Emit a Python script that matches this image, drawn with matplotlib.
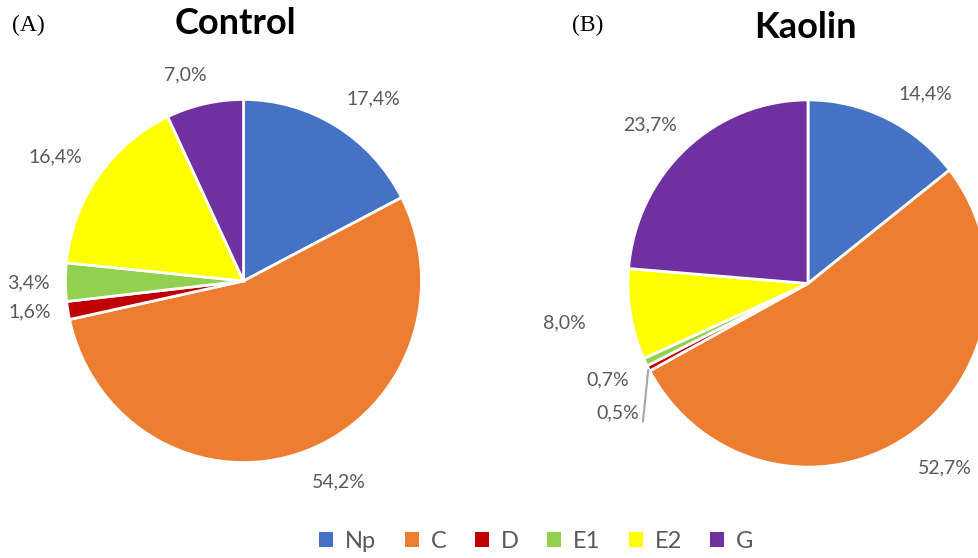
import numpy as np
import matplotlib
matplotlib.use("Agg")
import matplotlib.pyplot as plt
from matplotlib.patches import Patch

plt.rcParams['font.family'] = ['Lato', 'DejaVu Sans']

# share of each stage (%), clockwise from 12 o'clock
stages = ['Np', 'C', 'D', 'E1', 'E2', 'G']
control = [17.4, 54.2, 1.6, 3.4, 16.4, 7.0]
kaolin = [14.4, 52.7, 0.5, 0.7, 8.0, 23.7]
colors = ['#4472C4', '#ED7D31', '#C00000', '#92D050', '#FFFF00', '#7030A0']

W, H = 979, 558
SY = 1.02  # the pies are a touch taller than wide

fig = plt.figure(figsize=(W / 100, H / 100), dpi=100)
ax = fig.add_axes([0, 0, 1, 1])


def yd(y_px):
    return (H - y_px) / SY


def draw_pie(values, cx, cy, r, label_k, label_nudge, leader=None):
    ax.pie(values, colors=colors, startangle=90, counterclock=False,
           center=(cx, cy), radius=r,
           wedgeprops=dict(edgecolor='white', linewidth=2))
    cum = np.cumsum([0] + list(values[:-1]))
    for i, v in enumerate(values):
        mid = 90 - 3.6 * (cum[i] + v / 2)
        a = np.deg2rad(mid + label_nudge[i])
        tx = cx + label_k[i] * r * np.cos(a)
        ty = cy + label_k[i] * r * np.sin(a)
        txt = f"{v:.1f}%".replace('.', ',')
        if leader is not None and i == leader:
            m = np.deg2rad(mid)
            ax.annotate(txt, xy=(cx + r * np.cos(m), cy + r * np.sin(m)),
                        xytext=(tx, ty), ha='center', va='center',
                        fontsize=14, color='#595959',
                        arrowprops=dict(arrowstyle='-', color='#a6a6a6',
                                        lw=1.5, shrinkA=0, shrinkB=1,
                                        relpos=(1.08, 0.0)))
        else:
            ax.text(tx, ty, txt, ha='center', va='center',
                    fontsize=14, color='#595959')


draw_pie(control, 243.5, yd(281), 178,
         [1.24, 1.23, 1.21, 1.21, 1.26, 1.18],
         [-4.7, 6.0, -1.4, 0.0, 2.3, 3.4])
draw_pie(kaolin, 808, yd(283.5), 180,
         [1.22, 1.26, 1.27, 1.23, 1.37, 1.23],
         [-6.3, 3.7, 6.3, 0.0, -0.7, 2.7], leader=2)

ax.set_xlim(0, W)
ax.set_ylim(0, H / SY)
ax.set_aspect('auto')
ax.axis('off')

fig.text(235 / W, 1 - 24 / H, 'Control', ha='center', va='center',
         fontsize=26, fontweight='bold', color='black')
fig.text(805 / W, 1 - 28 / H, 'Kaolin', ha='center', va='center',
         fontsize=26, fontweight='bold', color='black')
fig.text(12 / W, 1 - 25 / H, '(A)', ha='left', va='center',
         fontsize=17, family='Liberation Serif')
fig.text(572 / W, 1 - 25 / H, '(B)', ha='left', va='center',
         fontsize=17, family='Liberation Serif')

handles = [Patch(facecolor=c, label=s) for s, c in zip(stages, colors)]
fig.legend(handles=handles, ncol=6, loc='center',
           bbox_to_anchor=(0.548, 0.03), frameon=False,
           handlelength=0.6, handleheight=0.6, handletextpad=0.5,
           columnspacing=1.2, fontsize=17, labelcolor='#595959')

fig.savefig('out.png', dpi=100)
